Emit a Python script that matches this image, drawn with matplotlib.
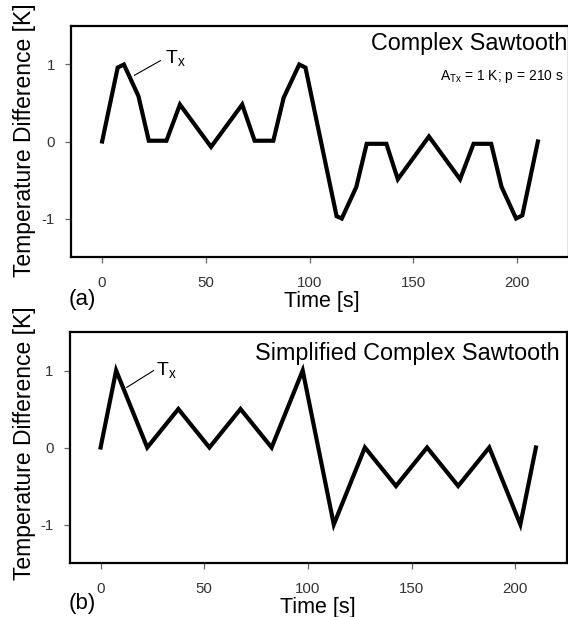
import matplotlib
matplotlib.use("Agg")
from matplotlib import pyplot as plt

plt.rcParams['font.family'] = ['Liberation Sans', 'DejaVu Sans']
plt.rcParams['axes.unicode_minus'] = False

# panel (a): complex sawtooth
time_a = [0, 7.5, 10.5, 17.5, 22.5, 31, 37.5, 52.5, 67.5, 73.5, 82.5, 87.5, 95, 98,
          113, 115.5, 122.5, 127.5, 137, 142.5, 157.5, 172.5, 179, 187.5, 192.5,
          199.5, 202.5, 210]
temp_a = [0, 0.96, 1.0, 0.59, 0.01, 0.01, 0.48, -0.07, 0.48, 0.01, 0.01, 0.57, 1.0, 0.96,
          -0.97, -1.0, -0.59, -0.03, -0.03, -0.49, 0.065, -0.49, -0.03, -0.03, -0.59,
          -1.0, -0.96, 0.0]

# panel (b): simplified complex sawtooth
time_b = [0, 7.5, 22.5, 37.5, 52.5, 67.5, 82.5, 97.5, 112.5, 127.5, 142.5, 157.5,
          172.5, 187.5, 202.5, 210]
temp_b = [0, 1, 0, 0.5, 0, 0.5, 0, 1, -1, 0, -0.5, 0, -0.5, 0, -1, 0]

xticks = [0, 50, 100, 150, 200]
yticks = [-1, 0, 1]

W, H = 568, 617
fig = plt.figure(figsize=(W / 100, H / 100), dpi=100)


def box(l, r, t, b):
    return [l / W, 1 - b / H, (r - l) / W, (b - t) / H]


def style(ax):
    ax.set_xlim(-15, 225)
    ax.set_ylim(-1.5, 1.5)
    ax.set_xticks(xticks)
    ax.set_yticks(yticks)
    for s in ax.spines.values():
        s.set_linewidth(1.6)
    ax.tick_params(direction='out', length=4.5, width=0.9, color='#666666',
                   labelcolor='#333333', labelsize=10.8)
    ax.tick_params(axis='x', pad=9)
    ax.tick_params(axis='y', pad=7)


ax1 = fig.add_axes(box(71, 569, 26, 257))
ax1.plot(time_a, temp_a, color='black', lw=3, solid_joinstyle='miter')
style(ax1)
ax1.text(224, 1.19, 'Complex Sawtooth', ha='right', va='baseline', fontsize=16.8)
ax1.text(222.4, 0.80, r'$\mathregular{A_{Tx}}$ = 1 K; p = 210 s', ha='right',
         va='baseline', fontsize=10)
ax1.plot([15.6, 28.1], [0.86, 1.05], color='black', lw=0.8)
ax1.text(30.5, 1.02, r'$\mathregular{T_x}$', ha='left', va='baseline', fontsize=14)

ax2 = fig.add_axes(box(69.5, 567, 332, 563))
ax2.plot(time_b, temp_b, color='black', lw=3, solid_joinstyle='miter')
style(ax2)
ax2.text(221.3, 1.14, 'Simplified Complex Sawtooth', ha='right', va='baseline',
         fontsize=16.8)
ax2.plot([12.6, 25.6], [0.78, 1.0], color='black', lw=0.8)
ax2.text(26.5, 0.94, r'$\mathregular{T_x}$', ha='left', va='baseline', fontsize=14)

# axis labels and panel tags placed in figure pixels
lab = 16.5
fig.text(24.6 / W, 1 - 140 / H, 'Temperature Difference [K]', rotation=90,
         ha='center', va='center', fontsize=lab)
fig.text(24.6 / W, 1 - 443 / H, 'Temperature Difference [K]', rotation=90,
         ha='center', va='center', fontsize=lab)
fig.text(322 / W, 1 - 302 / H, 'Time [s]', ha='center', va='center', fontsize=15.5)
fig.text(318 / W, 1 - 607 / H, 'Time [s]', ha='center', va='center', fontsize=15.5)
fig.text(82.5 / W, 1 - 300 / H, '(a)', ha='center', va='center', fontsize=16)
fig.text(82 / W, 1 - 603 / H, '(b)', ha='center', va='center', fontsize=16)

fig.savefig('out.png', dpi=100)
